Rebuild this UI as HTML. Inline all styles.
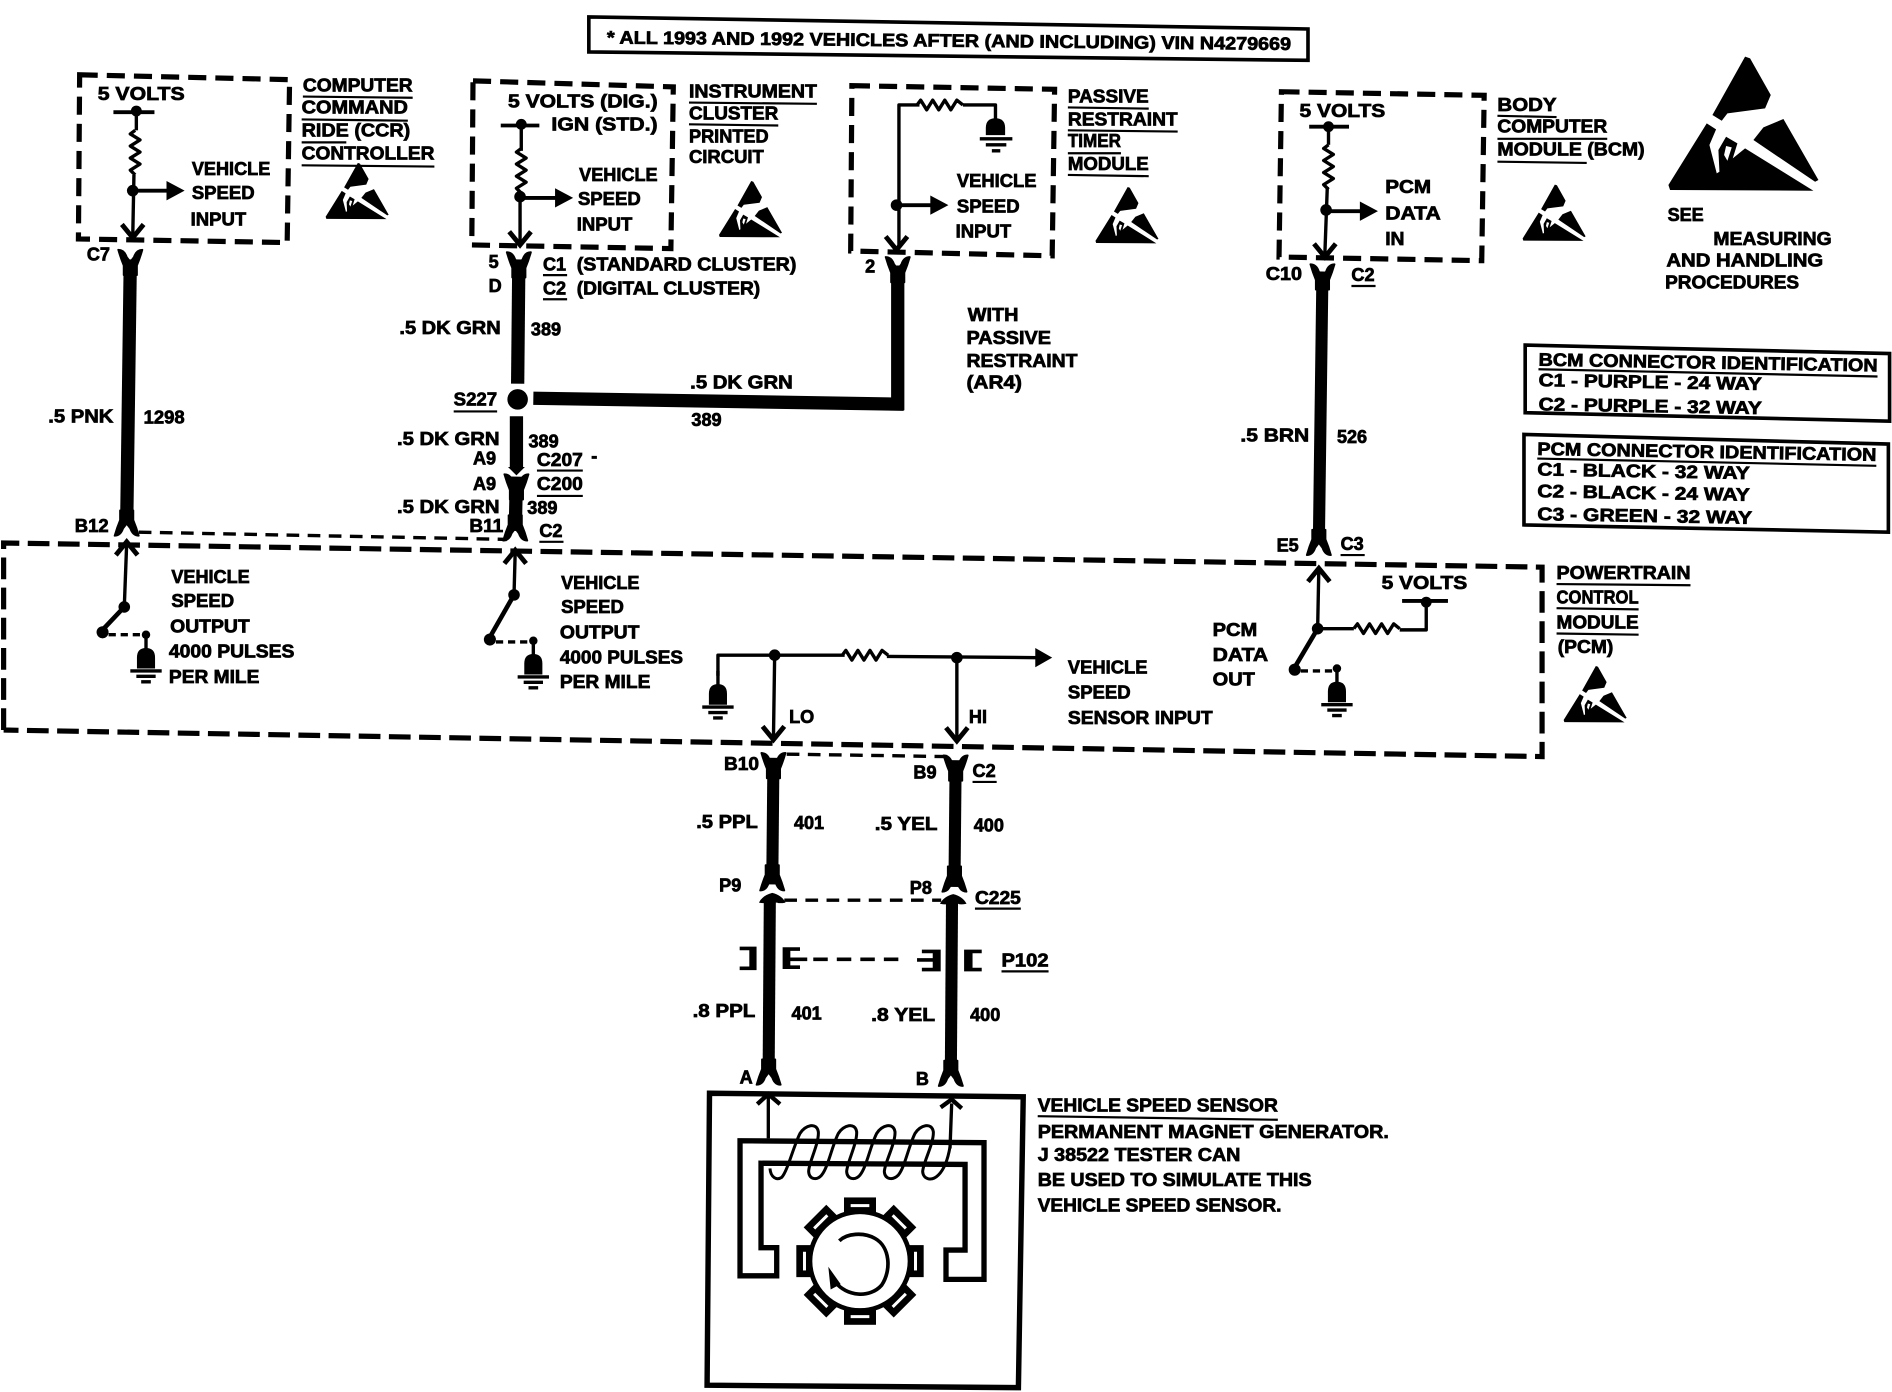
<!DOCTYPE html>
<html>
<head>
<meta charset="utf-8">
<style>
html,body{margin:0;padding:0;background:#fff;}
svg{display:block;}
text{font-family:"Liberation Sans",sans-serif;font-weight:bold;font-size:15px;fill:#000;stroke:#000;stroke-width:.6px;}
.d{fill:none;stroke:#000;stroke-width:4.3;stroke-dasharray:15 7.5;}
.d2{fill:none;stroke:#000;stroke-width:2.800;stroke-dasharray:10.500 7;}
.w{fill:none;stroke:#000;stroke-width:11;}
.l{fill:none;stroke:#000;stroke-width:2.800;stroke-linejoin:round;}
.c{fill:none;stroke:#000;stroke-width:4;}
.u{fill:none;stroke:#000;stroke-width:1.800;}
.h{stroke:#000;stroke-width:1.500;stroke-linejoin:round;}
</style>
</head>
<body>
<svg width="1892" height="1392" viewBox="0 0 1568 1153.6" xmlns="http://www.w3.org/2000/svg">
<defs>
<g id="esd">
<g transform="translate(1367.5 33.15) scale(.2763)">
<path d="M285 50L300 55L362 165L345 205L232 220L215 242L187 225Z"/>
<path d="M55 435L170 250L198 268L178 315L200 400L208 395L205 330L228 290L262 310L248 355L285 325L490 452L60 450Z"/>
<path d="M310 300L340 262L400 237L505 420L495 425Z"/>
<path d="M228 318L245 322L232 362L222 345Z" fill="#fff"/>
</g>
</g>
<g id="gnd0">
<path class="l" d="M0 -22V-5"/>
<path d="M-7.500 6V-3Q-7.500 -11 0 -11Q7.500 -11 7.500 -3V6Z"/>
<path class="l" d="M-13 8H13M-8 12.500H8M-4 17H4"/>
</g>
<g id="gnd"><use href="#gnd0"/><circle cx="0" cy="-22" r="3.500"/></g>
<path id="zv" class="l" d="M0 0L-4 3L4 8L-4 13L4 18L-4 23L4 28L-4 33L0 37"/>
<path id="zh" class="l" d="M0 0L3 -4L8 4L13 -4L18 4L23 -4L28 4L33 -4L38 0"/>
<path id="vin" class="c" d="M-9 -11L0 0L9 -11"/>
<path id="vup" class="c" d="M-9 11L0 0L9 11"/>
<path id="yd" class="h" d="M-10 -9Q-5 -9 -3 -3L0 1L3 -3Q5 -9 10 -9Q8 -2 5.500 4V12H-5.500V4Q-8 -2 -10 -9Z"/>
<path id="yu" class="h" d="M-10 9Q-5 9 -3 3L0 -1L3 3Q5 9 10 9Q8 2 5.500 -4V-12H-5.500V-4Q-8 2 -10 9Z"/>
<path id="dome" d="M-11 8Q-8 2 0 0Q8 2 11 8Q6 9 4 8H-4Q-6 9 -11 8Z"/>
<g id="tooth"><rect x="432" y="322" width="96" height="60"/><rect x="452" y="342" width="56" height="9" fill="#fff"/></g>
</defs>

<!-- header -->
<path d="M488 14L1084 24V50L488 43Z" fill="none" stroke="#000" stroke-width="3"/>
<text x="503" y="36" textLength="567" lengthAdjust="spacingAndGlyphs" transform="rotate(.55 503 36)">* ALL 1993 AND 1992 VEHICLES AFTER (AND INCLUDING) VIN N4279669</text>

<!-- dashed module boxes -->
<path class="d" d="M66 62L240 66L238 201L65 198Z"/>
<path class="d" d="M392 67L558 72L556 206L391 203Z"/>
<path class="d" d="M706 71L874 74L872 212L705 208Z"/>
<path class="d" d="M1062 76L1230 79L1228 216L1060 213Z"/>
<path class="d" style="stroke-dasharray:18 7" d="M3 605V450L1278 470V627L3 605"/>
<path class="d2" d="M115 441L420 447"/>
<path class="d2" d="M652 625L785 627"/>
<path class="d2" d="M650 746L780 746"/>

<!-- heavy wires -->
<path class="w" d="M108 215L105 435"/>
<path class="w" d="M430 215L429 318"/>
<path class="w" d="M442 330L749 335"/>
<path class="w" d="M744 220V340"/>
<path class="w" d="M428 345V388"/>
<path class="w" d="M428 395L427 440"/>
<path class="w" style="stroke-width:10" d="M1096 225L1093 450"/>
<path class="w" style="stroke-width:10" d="M641 628L640 733"/>
<path class="w" style="stroke-width:10" d="M792 630L791 735"/>
<path class="w" style="stroke-width:10" d="M638 745L637 890"/>
<path class="w" style="stroke-width:10" d="M789 745L788 890"/>
<circle cx="429" cy="331" r="8.500"/>

<!-- connector heads -->
<use href="#yd" x="108" y="216"/>
<use href="#yd" x="430" y="218"/>
<use href="#yd" x="744" y="222"/>
<use href="#yd" x="1096" y="228"/>
<use href="#yd" x="428" y="402"/>
<use href="#yd" x="641" y="633"/>
<use href="#yd" x="792" y="635"/>
<use href="#yu" x="105" y="435"/>
<use href="#yu" x="427" y="439"/>
<use href="#yu" x="1093" y="451"/>
<use href="#yu" x="640" y="729"/>
<use href="#yu" x="791" y="730"/>
<use href="#dome" x="640" y="740"/>
<use href="#dome" x="790" y="741"/>
<use href="#yu" x="637" y="890"/>
<use href="#yu" x="788" y="891"/>
<path d="M421 387L435 387L428 394Z"/>

<!-- CCR internals -->
<path class="c" style="stroke-width:3.200" d="M94 93H128"/><circle cx="113" cy="92" r="4.500"/>
<path class="l" d="M113 92V108"/><use href="#zv" x="112" y="108"/>
<path class="l" d="M111 145L110 197"/><use href="#vin" x="110" y="197"/>
<circle cx="110" cy="158" r="4.800"/><path class="c" style="stroke-width:3.200" d="M110 158H140"/><path d="M138 150L153 158L138 166Z"/>

<!-- IPC internals -->
<path class="c" style="stroke-width:3.200" d="M415 104H447"/><circle cx="432" cy="103" r="4.500"/>
<path class="l" d="M432 103V125"/><use href="#zv" x="432" y="123"/>
<path class="l" d="M431 160V201"/><use href="#vin" x="431" y="203"/>
<circle cx="431" cy="163" r="4.800"/><path class="c" style="stroke-width:3.200" d="M431 164H462"/><path d="M460 156L475 164L460 172Z"/>

<!-- PRTM internals -->
<path class="l" d="M762 87H745V205"/><use href="#zh" x="760" y="87"/>
<path class="l" d="M798 87H825V100"/>
<path d="M817 112V106Q817 98 825 98Q833 98 833 106V112Z"/>
<path class="l" d="M812 115H839M817 120H834M822 125H829"/>
<use href="#vin" x="743" y="207"/>
<circle cx="743" cy="170" r="4.800"/><path class="c" style="stroke-width:3.200" d="M743 170H773"/><path d="M771 162L786 170L771 178Z"/>

<!-- BCM internals -->
<path class="c" style="stroke-width:3.200" d="M1085 105H1118"/><circle cx="1101" cy="105" r="4.500"/>
<path class="l" d="M1101 105V120"/><use href="#zv" x="1101" y="120"/>
<path class="l" d="M1100 155L1098 210"/><use href="#vin" x="1098" y="213"/>
<circle cx="1099" cy="174" r="4.800"/><path class="c" style="stroke-width:3.200" d="M1099 175H1128"/><path d="M1127 167L1142 175L1127 183Z"/>

<!-- PCM left switch -->
<path class="l" d="M105 450L103 503"/><use href="#vup" x="105" y="449"/>
<circle cx="103" cy="503" r="4.800"/>
<path class="c" style="stroke-width:3.800" d="M103 503L85 522"/><circle cx="85" cy="524" r="5"/>
<path class="l" stroke-dasharray="6 4" d="M90 526H118"/>
<use href="#gnd" x="121" y="548"/>

<!-- PCM mid switch -->
<path class="l" d="M427 456L426 493"/><use href="#vup" x="427" y="456"/>
<circle cx="426" cy="493" r="4.800"/>
<path class="c" style="stroke-width:3.800" d="M426 493L406 528"/><circle cx="406" cy="530" r="5"/>
<path class="l" stroke-dasharray="6 4" d="M411 532H438"/>
<use href="#gnd" x="442" y="553"/>

<!-- PCM right -->
<path class="l" d="M1093 470L1092 521"/><use href="#vup" x="1093" y="471"/>
<circle cx="1092" cy="521" r="4.800"/>
<path class="c" style="stroke-width:3.800" d="M1092 521L1073 553"/><circle cx="1073" cy="555" r="5"/>
<path class="l" stroke-dasharray="6 4" d="M1078 556H1104"/>
<use href="#gnd" x="1108" y="576"/>
<path class="l" d="M1092 521H1122"/><use href="#zh" x="1122" y="521"/>
<path class="l" d="M1160 522H1182V499"/>
<path class="c" style="stroke-width:3.200" d="M1162 498H1200"/><circle cx="1182" cy="499" r="4.500"/>

<!-- VSS input -->
<path class="l" d="M595 560V543H700"/><use href="#zh" x="698" y="543"/>
<path class="l" d="M735 544L860 545"/><path d="M858 537L872 545L858 553Z"/>
<circle cx="642" cy="543" r="4.800"/><circle cx="793" cy="545" r="4.800"/>
<path class="l" d="M642 543L641 612M793 545V612"/>
<use href="#vin" x="641" y="613"/><use href="#vin" x="793" y="614"/>
<use href="#gnd0" x="595" y="578"/>

<!-- P102 brackets -->
<path d="M613 784.500H627V804H613V801H621V787.500H613Z"/>
<path d="M648.600 785H663V788H655V793.500H669V796.500H655V800H663V803H648.600Z"/>
<path d="M764 787H779.600V805H764V802H773V797H760V794H773V790H764Z"/>
<path d="M813.600 787V790H806V802H813.600V805H799V787Z"/>
<path d="M674 795L745 795" fill="none" stroke="#000" stroke-width="3" stroke-dasharray="12 7.500"/>

<!-- sensor -->
<path d="M588 906L848 909L844 1150L586 1148Z" fill="none" stroke="#000" stroke-width="4.500"/>
<path class="c" style="stroke-width:4.400" d="M613.300 945.400L815.500 947V1060.300H784V1036H799.800V965L630.700 964V1034H643.700V1057.300H613.300Z"/>
<g transform="translate(580.1 903.4) scale(.2763)">
<path fill="none" stroke="#000" stroke-width="10" d="M205 20V145M755 40L750 175"/>
<path fill="none" stroke="#000" stroke-width="13" d="M172 42L205 12L240 42M722 52L755 28L785 55"/>
<path fill="none" stroke="#000" stroke-width="9" d="M210 235C212 262 230 272 245 262C262 245 280 170 300 130C315 105 350 95 355 125C358 160 325 220 326 245C328 268 350 272 365 255C385 230 395 170 415 130C430 105 465 95 470 125C472 160 440 220 440 245C442 268 465 272 480 255C500 230 510 170 530 130C545 105 580 95 585 125C587 160 553 220 553 245C555 268 578 272 595 255C615 230 625 170 645 130C660 105 695 95 700 125C702 160 668 220 668 245C670 268 695 275 715 255C735 235 745 200 750 170"/>
<use href="#tooth"/>
<use href="#tooth" transform="rotate(45 480 513)"/>
<use href="#tooth" transform="rotate(90 480 513)"/>
<use href="#tooth" transform="rotate(135 480 513)"/>
<use href="#tooth" transform="rotate(180 480 513)"/>
<use href="#tooth" transform="rotate(225 480 513)"/>
<use href="#tooth" transform="rotate(270 480 513)"/>
<use href="#tooth" transform="rotate(315 480 513)"/>
<ellipse cx="480" cy="513" rx="150" ry="148" fill="#fff" stroke="#000" stroke-width="14"/>
<path fill="none" stroke="#000" stroke-width="11" d="M418 452C440 430 490 425 525 445C570 470 575 540 545 585C510 625 440 620 405 575"/>
<path d="M385 530L422 582L392 598Z"/>
</g>

<!-- ESD symbols -->
<use href="#esd"/>
<use href="#esd" transform="translate(270 135) scale(.42) translate(-1383 -47)"/>
<use href="#esd" transform="translate(596 150) scale(.42) translate(-1383 -47)"/>
<use href="#esd" transform="translate(908 155) scale(.42) translate(-1383 -47)"/>
<use href="#esd" transform="translate(1262 153) scale(.42) translate(-1383 -47)"/>
<use href="#esd" transform="translate(1296 552) scale(.42) translate(-1383 -47)"/>

<!-- ID boxes -->
<path d="M1264 286L1566 293V349L1264 342Z" fill="none" stroke="#000" stroke-width="3"/>
<path d="M1263 360L1565 368V441L1263 435Z" fill="none" stroke="#000" stroke-width="3"/>

<!-- underlines -->
<path class="u" d="M251 80L342 81M250 99L338 100M250 118L287 118M250 137L360 138
M571 85L677 86M571 103L645 104
M885 89L952 90M885 108L976 109M885 127L929 127M885 145L952 146
M1241 96L1290 97M1241 115L1332 115M1241 134L1315 135
M450 228H470M450 248H470M1120 237H1140M376 341H412M445 390H483M445 411H483M447 449H467M1111 460H1131
M1275 306L1556 312M1274 380L1555 386
M1290 484L1401 485M1290 504L1358 505M1290 525L1358 526
M806 648H826M808 753H846M830 805H869M860 925L1059 928"/>

<!-- labels -->
<text x="81" y="83" textLength="72" lengthAdjust="spacingAndGlyphs">5 VOLTS</text>
<text x="159" y="145" textLength="65" lengthAdjust="spacingAndGlyphs">VEHICLE</text>
<text x="159" y="165" textLength="52" lengthAdjust="spacingAndGlyphs">SPEED</text>
<text x="158" y="187" textLength="46" lengthAdjust="spacingAndGlyphs">INPUT</text>
<text x="251" y="76" textLength="91" lengthAdjust="spacingAndGlyphs">COMPUTER</text>
<text x="250" y="94" textLength="88" lengthAdjust="spacingAndGlyphs">COMMAND</text>
<text x="250" y="113" textLength="90" lengthAdjust="spacingAndGlyphs">RIDE (CCR)</text>
<text x="250" y="132" textLength="110" lengthAdjust="spacingAndGlyphs">CONTROLLER</text>

<text x="421" y="89" textLength="124" lengthAdjust="spacingAndGlyphs">5 VOLTS (DIG.)</text>
<text x="457" y="108" textLength="88" lengthAdjust="spacingAndGlyphs">IGN (STD.)</text>
<text x="480" y="150" textLength="65" lengthAdjust="spacingAndGlyphs">VEHICLE</text>
<text x="479" y="170" textLength="52" lengthAdjust="spacingAndGlyphs">SPEED</text>
<text x="478" y="191" textLength="46" lengthAdjust="spacingAndGlyphs">INPUT</text>
<text x="571" y="81" textLength="106" lengthAdjust="spacingAndGlyphs">INSTRUMENT</text>
<text x="571" y="99" textLength="74" lengthAdjust="spacingAndGlyphs">CLUSTER</text>
<text x="571" y="118" textLength="66" lengthAdjust="spacingAndGlyphs">PRINTED</text>
<text x="571" y="135" textLength="62" lengthAdjust="spacingAndGlyphs">CIRCUIT</text>

<text x="885" y="85" textLength="67" lengthAdjust="spacingAndGlyphs">PASSIVE</text>
<text x="885" y="104" textLength="91" lengthAdjust="spacingAndGlyphs">RESTRAINT</text>
<text x="885" y="122" textLength="44" lengthAdjust="spacingAndGlyphs">TIMER</text>
<text x="885" y="141" textLength="67" lengthAdjust="spacingAndGlyphs">MODULE</text>
<text x="793" y="155" textLength="66" lengthAdjust="spacingAndGlyphs">VEHICLE</text>
<text x="793" y="176" textLength="52" lengthAdjust="spacingAndGlyphs">SPEED</text>
<text x="792" y="197" textLength="46" lengthAdjust="spacingAndGlyphs">INPUT</text>

<text x="1077" y="97" textLength="71" lengthAdjust="spacingAndGlyphs">5 VOLTS</text>
<text x="1148" y="160" textLength="38" lengthAdjust="spacingAndGlyphs">PCM</text>
<text x="1148" y="182" textLength="46" lengthAdjust="spacingAndGlyphs">DATA</text>
<text x="1148" y="203" textLength="16" lengthAdjust="spacingAndGlyphs">IN</text>
<text x="1241" y="92" textLength="49" lengthAdjust="spacingAndGlyphs">BODY</text>
<text x="1241" y="110" textLength="91" lengthAdjust="spacingAndGlyphs">COMPUTER</text>
<text x="1241" y="129" textLength="122" lengthAdjust="spacingAndGlyphs">MODULE (BCM)</text>

<text x="1382" y="183" textLength="30" lengthAdjust="spacingAndGlyphs">SEE</text>
<text x="1420" y="203" textLength="98" lengthAdjust="spacingAndGlyphs">MEASURING</text>
<text x="1381" y="221" textLength="130" lengthAdjust="spacingAndGlyphs">AND  HANDLING</text>
<text x="1380" y="239" textLength="111" lengthAdjust="spacingAndGlyphs">PROCEDURES</text>

<text x="72" y="216">C7</text>
<text x="405" y="222">5</text>
<text x="405" y="242">D</text>
<text x="450" y="224">C1</text>
<text x="478" y="224" textLength="182" lengthAdjust="spacingAndGlyphs">(STANDARD CLUSTER)</text>
<text x="450" y="244">C2</text>
<text x="478" y="244" textLength="152" lengthAdjust="spacingAndGlyphs">(DIGITAL CLUSTER)</text>
<text x="717" y="226">2</text>
<text x="1049" y="232" textLength="30" lengthAdjust="spacingAndGlyphs">C10</text>
<text x="1120" y="233">C2</text>

<text x="331" y="277" textLength="84" lengthAdjust="spacingAndGlyphs">.5 DK GRN</text>
<text x="440" y="278">389</text>
<text x="376" y="336" textLength="36" lengthAdjust="spacingAndGlyphs">S227</text>
<text x="572" y="322" textLength="85" lengthAdjust="spacingAndGlyphs">.5 DK GRN</text>
<text x="573" y="353">389</text>
<text x="802" y="266" textLength="42" lengthAdjust="spacingAndGlyphs">WITH</text>
<text x="801" y="285" textLength="70" lengthAdjust="spacingAndGlyphs">PASSIVE</text>
<text x="801" y="304" textLength="92" lengthAdjust="spacingAndGlyphs">RESTRAINT</text>
<text x="801" y="322" textLength="46" lengthAdjust="spacingAndGlyphs">(AR4)</text>

<text x="40" y="350" textLength="54" lengthAdjust="spacingAndGlyphs">.5 PNK</text>
<text x="119" y="351" textLength="34" lengthAdjust="spacingAndGlyphs">1298</text>
<text x="1028" y="366" textLength="57" lengthAdjust="spacingAndGlyphs">.5 BRN</text>
<text x="1108" y="367">526</text>

<text x="329" y="369" textLength="85" lengthAdjust="spacingAndGlyphs">.5 DK GRN</text>
<text x="438" y="371">389</text>
<text x="392" y="385">A9</text>
<text x="445" y="386" textLength="38" lengthAdjust="spacingAndGlyphs">C207</text>
<text x="490" y="383">-</text>
<text x="392" y="406">A9</text>
<text x="445" y="406" textLength="38" lengthAdjust="spacingAndGlyphs">C200</text>
<text x="329" y="425" textLength="85" lengthAdjust="spacingAndGlyphs">.5 DK GRN</text>
<text x="437" y="426">389</text>
<text x="389" y="441" textLength="28" lengthAdjust="spacingAndGlyphs">B11</text>
<text x="447" y="445">C2</text>
<text x="62" y="441" textLength="28" lengthAdjust="spacingAndGlyphs">B12</text>
<text x="1058" y="457">E5</text>
<text x="1111" y="456">C3</text>

<text x="1275" y="303" textLength="281" lengthAdjust="spacingAndGlyphs" transform="rotate(1 1275 303)">BCM CONNECTOR IDENTIFICATION</text>
<text x="1275" y="320" textLength="185" lengthAdjust="spacingAndGlyphs" transform="rotate(1 1275 320)">C1 - PURPLE - 24 WAY</text>
<text x="1275" y="340" textLength="185" lengthAdjust="spacingAndGlyphs" transform="rotate(1 1275 340)">C2 - PURPLE - 32 WAY</text>
<text x="1274" y="377" textLength="281" lengthAdjust="spacingAndGlyphs" transform="rotate(1 1274 377)">PCM CONNECTOR IDENTIFICATION</text>
<text x="1274" y="394" textLength="176" lengthAdjust="spacingAndGlyphs" transform="rotate(1 1274 394)">C1 - BLACK - 32 WAY</text>
<text x="1274" y="412" textLength="176" lengthAdjust="spacingAndGlyphs" transform="rotate(1 1274 412)">C2 - BLACK - 24 WAY</text>
<text x="1274" y="431" textLength="178" lengthAdjust="spacingAndGlyphs" transform="rotate(1 1274 431)">C3 - GREEN - 32 WAY</text>

<text x="142" y="483" textLength="65" lengthAdjust="spacingAndGlyphs">VEHICLE</text>
<text x="142" y="503" textLength="52" lengthAdjust="spacingAndGlyphs">SPEED</text>
<text x="141" y="524" textLength="66" lengthAdjust="spacingAndGlyphs">OUTPUT</text>
<text x="140" y="545" textLength="104" lengthAdjust="spacingAndGlyphs">4000 PULSES</text>
<text x="140" y="566" textLength="75" lengthAdjust="spacingAndGlyphs">PER MILE</text>
<text x="465" y="488" textLength="65" lengthAdjust="spacingAndGlyphs">VEHICLE</text>
<text x="465" y="508" textLength="52" lengthAdjust="spacingAndGlyphs">SPEED</text>
<text x="464" y="529" textLength="66" lengthAdjust="spacingAndGlyphs">OUTPUT</text>
<text x="464" y="550" textLength="102" lengthAdjust="spacingAndGlyphs">4000 PULSES</text>
<text x="464" y="570" textLength="75" lengthAdjust="spacingAndGlyphs">PER MILE</text>
<text x="885" y="558" textLength="66" lengthAdjust="spacingAndGlyphs">VEHICLE</text>
<text x="885" y="579" textLength="52" lengthAdjust="spacingAndGlyphs">SPEED</text>
<text x="885" y="600" textLength="120" lengthAdjust="spacingAndGlyphs">SENSOR INPUT</text>
<text x="1005" y="527" textLength="37" lengthAdjust="spacingAndGlyphs">PCM</text>
<text x="1005" y="548" textLength="46" lengthAdjust="spacingAndGlyphs">DATA</text>
<text x="1005" y="568" textLength="35" lengthAdjust="spacingAndGlyphs">OUT</text>
<text x="1145" y="488" textLength="71" lengthAdjust="spacingAndGlyphs">5 VOLTS</text>
<text x="1290" y="480" textLength="111" lengthAdjust="spacingAndGlyphs">POWERTRAIN</text>
<text x="1290" y="500" textLength="68" lengthAdjust="spacingAndGlyphs">CONTROL</text>
<text x="1290" y="521" textLength="68" lengthAdjust="spacingAndGlyphs">MODULE</text>
<text x="1291" y="541" textLength="46" lengthAdjust="spacingAndGlyphs">(PCM)</text>

<text x="654" y="599">LO</text>
<text x="803" y="599">HI</text>
<text x="600" y="638" textLength="29" lengthAdjust="spacingAndGlyphs">B10</text>
<text x="757" y="645">B9</text>
<text x="806" y="644">C2</text>
<text x="577" y="686" textLength="51" lengthAdjust="spacingAndGlyphs">.5 PPL</text>
<text x="658" y="687">401</text>
<text x="725" y="688" textLength="52" lengthAdjust="spacingAndGlyphs">.5 YEL</text>
<text x="807" y="689">400</text>
<text x="596" y="739">P9</text>
<text x="754" y="741">P8</text>
<text x="808" y="749" textLength="38" lengthAdjust="spacingAndGlyphs">C225</text>
<text x="830" y="801" textLength="39" lengthAdjust="spacingAndGlyphs">P102</text>
<text x="574" y="843" textLength="52" lengthAdjust="spacingAndGlyphs">.8 PPL</text>
<text x="656" y="845">401</text>
<text x="722" y="846" textLength="53" lengthAdjust="spacingAndGlyphs">.8 YEL</text>
<text x="804" y="846">400</text>
<text x="613" y="898">A</text>
<text x="759" y="899">B</text>

<text x="860" y="921" textLength="199" lengthAdjust="spacingAndGlyphs">VEHICLE SPEED SENSOR</text>
<text x="860" y="943" textLength="291" lengthAdjust="spacingAndGlyphs">PERMANENT MAGNET GENERATOR.</text>
<text x="860" y="962" textLength="168" lengthAdjust="spacingAndGlyphs">J 38522 TESTER CAN</text>
<text x="860" y="983" textLength="227" lengthAdjust="spacingAndGlyphs">BE USED TO SIMULATE THIS</text>
<text x="860" y="1004" textLength="202" lengthAdjust="spacingAndGlyphs">VEHICLE SPEED SENSOR.</text>
</svg>
</body>
</html>
